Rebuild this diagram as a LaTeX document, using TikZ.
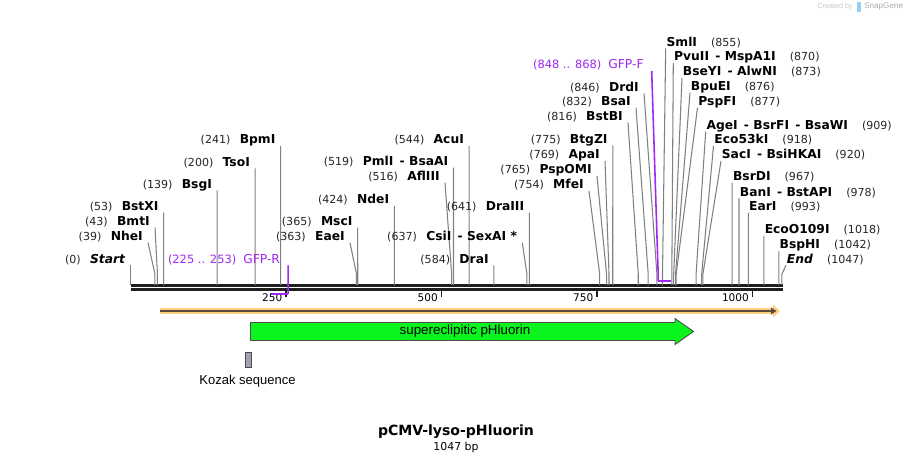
\documentclass[tikz,border=0pt]{standalone}
\usepackage{fontspec}
\setmainfont{DejaVu Sans}
\newfontfamily\featfont{Liberation Sans}
\usetikzlibrary{arrows.meta,calc}
\definecolor{cutgray}{RGB}{128,128,128}
\definecolor{primer}{RGB}{160,40,240}
\definecolor{orffill}{RGB}{255,208,128}
\definecolor{orfline}{RGB}{90,74,60}
\definecolor{featgreen}{RGB}{10,245,30}
\definecolor{kozak}{RGB}{160,164,172}
\definecolor{snapblue}{RGB}{150,205,240}
\newcommand\cutpos[1]{{\fontsize{6.3}{7}\selectfont\color{black!85}(#1)}}
\newcommand\dsh{\hspace{3.5pt}-\hspace{2.5pt}}

\begin{document}
\begin{tikzpicture}
                [x=0.02cm,y=-0.02cm,
                lab/.style={font=\fontsize{7}{8}\selectfont,text height=5.5pt,text depth=1pt,inner ysep=0pt},
                leftlab/.style={lab,anchor=south east,inner xsep=2.8pt},
                rightlab/.style={lab,anchor=south west,inner xsep=0.3pt},
                primerlab/.style={lab,anchor=south east,inner xsep=4.4pt,text=primer},
                cut/.style={draw=cutgray,line width=0.6pt},
                primerline/.style={draw=primer,line width=0.9pt},
                primerbar/.style={draw=primer,line width=1.5pt},
                feat/.style={font=\featfont\fontsize{7.6}{9}\selectfont}
                ]
            \fill[white] (0,0) rectangle (914,463);
            \useasboundingbox (0,0) rectangle (914,463);

            % backbone and ruler
            \draw[line width=1.5pt,black!88] (130.7,285.4) -- (782.5,285.4);
            \draw[line width=1.5pt,black!88] (130.7,289.4) -- (782.5,289.4);
            \foreach \v in {250,500,750,1000} {
                \coordinate (t\v) at ({130.7+0.622*\v},291);
                \draw[line width=0.9pt,black!88] (t\v) -- ++(0,6);
                \node[font=\fontsize{6}{7}\selectfont,anchor=east,inner sep=0pt] (n\v) at ($(t\v)+(-3.5,6.5)$) {\v};
            }

            % sites labelled on the left
            \foreach \p/\tx/\ty/\nm in {39/148/242.7/NheI, 43/155/227.7/BmtI, 53/163.7/212.7/BstXI,
                139/217.2/190.3/BsgI, 200/255.1/168.3/TsoI, 241/280.6/146/BpmI,
                363/350/242.7/EaeI, 365/357.7/227.7/MscI, 424/394.4/206/NdeI,
                516/445/182.7/AflIII, 519/453.5/167.7/PmlI\dsh BsaAI, 544/469.1/146/AcuI,
                584/493.9/265.3/DraI, 637/522.3/242.7/CsiI\dsh SexAI *, 641/529.4/212.7/DraIII,
                754/589/191/MfeI, 765/597/176/PspOMI, 769/605/161/ApaI, 775/612.8/145.3/BtgZI,
                816/628/122.7/BstBI, 832/636/107.7/BsaI, 846/644/93.3/DrdI} {
                \coordinate (s\p) at ({130.7+0.622*\p},285);
                \node[leftlab] (l\p) at (\tx,\ty) {\cutpos{\p}\hspace{5.3pt}\textbf{\nm}};
                \draw[cut] (l\p.south east) -- (s\p |- 0,274) -- (s\p);
            }

            % sites labelled on the right
            \foreach \p/\tx/\ty/\nm in {855/665.7/48.3/SmlI, 870/673.3/63/PvuII\dsh MspA1I,
                873/682/78/BseYI\dsh AlwNI, 876/690/92.7/BpuEI, 877/697.5/107.7/PspFI,
                909/705.7/131.7/AgeI\dsh BsrFI\dsh BsaWI, 918/713.5/146/Eco53kI,
                920/721/161/SacI\dsh BsiHKAI, 967/732.2/182.7/BsrDI, 978/739/198.3/BanI\dsh BstAPI,
                993/748.3/212.7/EarI, 1018/763.9/236/EcoO109I, 1042/778.8/251/BspHI} {
                \coordinate (s\p) at ({130.7+0.622*\p},285);
                \node[rightlab] (l\p) at (\tx,\ty) {\textbf{\nm}\hspace{8pt}\cutpos{\p}};
                \draw[cut] (l\p.south west) -- (s\p |- 0,274) -- (s\p);
            }

            % ends of the sequence
            \coordinate (s0) at (130.7,285);
            \node[leftlab] (l0) at (130.7,265.3) {\cutpos{0}\hspace{5.3pt}\textbf{\itshape Start}};
            \draw[cut] (l0.south east) -- (s0);
            \coordinate (s1047) at ({130.7+0.622*1047},285);
            \node[rightlab] (l1047) at (786,265.3) {\textbf{\itshape End}\hspace{8pt}\cutpos{1047}};
            \draw[cut] (l1047.south west) -- (s1047 |- 0,274) -- (s1047);

            % primers
            \coordinate (pr1) at ({130.7+0.622*225},294);
            \coordinate (pr2) at ({130.7+0.622*253},294);
            \node[primerlab] (gfpr) at (288.1,265.3) {{\fontsize{6.5}{7}\selectfont(225 .. 253)}\hspace{4pt}GFP-R};
            \draw[primerline] (gfpr.south east) -- (pr2);
            \draw[primerbar] (pr1) -- (pr2);
            \coordinate (pf1) at ({130.7+0.622*848},281);
            \coordinate (pf2) at ({130.7+0.622*868},281);
            \node[primerlab] (gfpf) at (651.7,71) {{\fontsize{6.5}{7}\selectfont(848 .. 868)}\hspace{4pt}GFP-F};
            \draw[primerline] (gfpf.south east) -- (pf1 |- 0,273) -- (pf1);
            \draw[primerbar] (pf1) -- (pf2);

            % features
            \coordinate (orf0) at (160,311);
            \coordinate (orf1) at (780,311);
            \draw[orffill,line width=3.4pt,-{Triangle[length=4pt,width=7pt]}] (orf0) -- (orf1);
            \draw[orfline,line width=1pt,-{Triangle[length=3pt,width=3.6pt]}] (orf0) -- ([xshift=-2pt]orf1);
            \draw[fill=featgreen,draw=black!70,line width=0.5pt] (250.5,322.5) -- (675,322.5) -- (675,318.5)
                -- (693.5,331.5) -- (675,344.5) -- (675,340.5) -- (250.5,340.5) -- cycle;
            \node[feat] (sep) at (465,331) {supereclipitic pHluorin};
            \draw[fill=kozak,draw=black!70,line width=0.5pt] (245.5,352.5) rectangle (251,367.5);
            \node[feat,font=\featfont\fontsize{7.4}{9}\selectfont] (koz) at (247.5,381.5) {Kozak sequence};

            % title
            \node[font=\bfseries\fontsize{8}{9}\selectfont] (title) at (456,432) {pCMV-lyso-pHluorin};
            \node[font=\fontsize{6.2}{7}\selectfont] (len) at (456,447) {1047 bp};
            \node[anchor=east,inner sep=0pt,text=black!22,font=\featfont\fontsize{4.1}{5}\selectfont] (made) at (853,7) {Created by};
            \fill[snapblue] (857,2.5) rectangle (861,11.5);
            \node[anchor=west,inner sep=0pt,text=black!32,font=\featfont\fontsize{4.6}{5}\selectfont] (snap) at (864,7) {SnapGene};
            \end{tikzpicture}
\end{document}
